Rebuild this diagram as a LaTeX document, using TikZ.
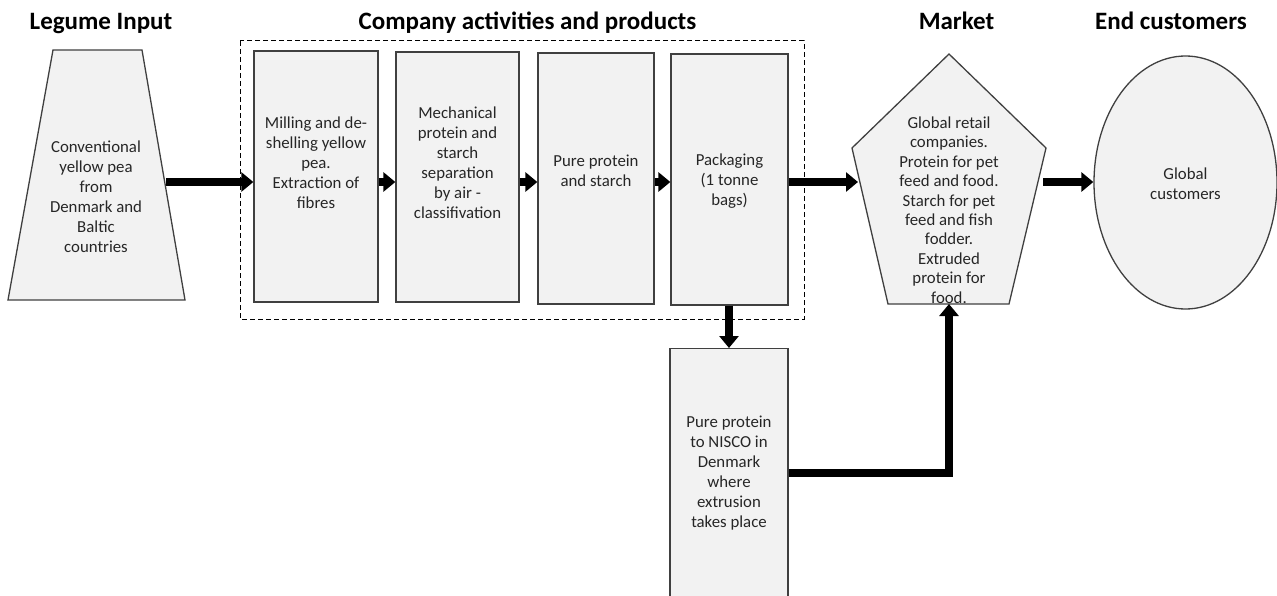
\documentclass[tikz,border=0pt]{standalone}
\usepackage{fontspec}
\setmainfont{Carlito}
\usetikzlibrary{arrows.meta,shapes.geometric}
\definecolor{boxfill}{HTML}{F2F2F2}
\definecolor{boxline}{HTML}{404040}
\definecolor{txt}{HTML}{262626}
\tikzset{
  stepbox/.style={draw=boxline, fill=boxfill, line width=1.3pt, rectangle, inner sep=0pt},
  body/.style={align=center, text=txt, inner sep=0pt, font=\fontsize{16.8}{20}\selectfont},
  title/.style={inner sep=0pt, anchor=base, font=\bfseries\fontsize{25}{30}\selectfont},
  arr/.style={line width=8pt, -{Triangle[length=12pt,width=19pt]}},
}
\begin{document}
\begin{tikzpicture}[x=1pt,y=-1pt]
\useasboundingbox (0,0) rectangle (1277,596);
% titles
\node[title] (t1) at (101,30) {Legume Input};
\node[title] (t2) at (527.5,30) {Company activities and products};
\node[title] (t3) at (956.5,30) {Market};
\node[title] (t4) at (1171,30) {End customers};
% dashed company frame
\draw[line width=1pt, dash pattern=on 5pt off 3pt] (240,41) rectangle (804,319);
% trapezoid
\draw[draw=boxline, fill=boxfill, line width=1.3pt] (53,50) -- (142,50) -- (185,300) -- (8,300) -- cycle;
\coordinate (trapR) at (166,182);
\node[body] (legume) at (96,197) {Conventional\\yellow pea\\from\\Denmark and\\Baltic\\countries};
% company boxes
\node[stepbox, minimum width=124, minimum height=251] (box1) at (316,176.5) {};
\node[stepbox, minimum width=123, minimum height=250] (box2) at (457.5,177) {};
\node[stepbox, minimum width=116, minimum height=251] (box3) at (596,178.5) {};
\node[stepbox, minimum width=117, minimum height=251] (box4) at (729.5,179.5) {};
\node[body] (b1t) at (316,163) {Milling and de-\\shelling yellow\\pea.\\Extraction of\\fibres};
\node[body] (b2t) at (457.5,163) {Mechanical\\protein and\\starch\\separation\\by air -\\classifivation};
\node[body] (b3t) at (596,171) {Pure protein\\and starch};
\node[body] (b4t) at (729.5,181) {Packaging\\(1 tonne\\bags)};
% NISCO box
\node[stepbox, minimum width=118, minimum height=260, anchor=north] (box5) at (729,348) {};
\node[body] (b5t) at (729,473) {Pure protein\\to NISCO in\\Denmark\\where\\extrusion\\takes place};
% pentagon
\draw[draw=boxline, fill=boxfill, line width=1.3pt] (949,54) -- (1046,148) -- (1009,304) -- (888,304) -- (852,148) -- cycle;
\coordinate (pentL) at (858,182);
\coordinate (pentR) at (1043,182);
\coordinate (pentB) at (949,304);
\node[body, font=\fontsize{16.8}{19.4}\selectfont] (market) at (949,210) {Global retail\\companies.\\Protein for pet\\feed and food.\\Starch for pet\\feed and fish\\fodder.\\Extruded\\protein for\\food.};
% ellipse
\node[ellipse, draw=boxline, fill=boxfill, line width=1.3pt, minimum width=183, minimum height=253, inner sep=0pt] (cust) at (1185.5,182.5) {};
\node[body] (custt) at (1185.5,184) {Global\\customers};
% arrows
\draw[arr] (trapR) -- (box1.west |- trapR);
\draw[arr] (box1.east |- trapR) -- (box2.west |- trapR);
\draw[arr] (box2.east |- trapR) -- (box3.west |- trapR);
\draw[arr] (box3.east |- trapR) -- (box4.west |- trapR);
\draw[arr] (box4.east |- trapR) -- (pentL);
\draw[arr] (pentR) -- (cust.west |- trapR);
\draw[arr] (box4.south -| box5.north) -- (box5.north);
\draw[arr] (box5.east |- b5t) -| (pentB);
\end{tikzpicture}
\end{document}
